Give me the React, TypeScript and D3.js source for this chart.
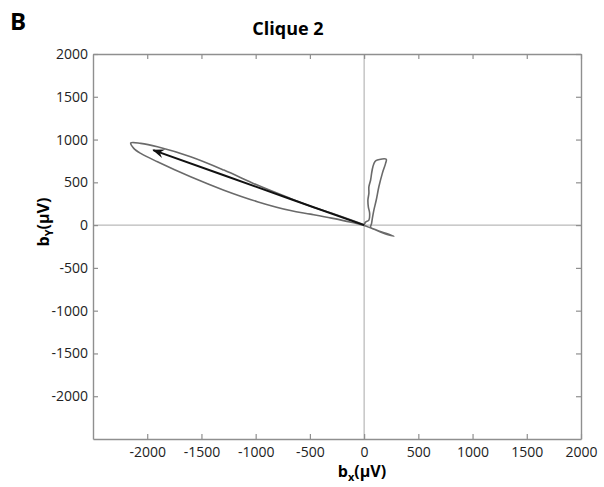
import { useRef, useEffect } from "react";
import * as d3 from "d3";

// gray trajectory: big loop out to the left, tail to lower right, small loop above origin
const loopX = [0, -250, -494, -679, -985, -1293, -1600, -1906, -2060, -2152,
  -2124, -2060, -1906, -1600, -1293, -985, -679, -494, -300, -120, -17, 130, 274,
  180, 100, 60, 69, 76, 90, 112, 136, 168, 198, 204,
  122, 99, 81, 69, 60, 44, 44, 35, 39, 51, 44, 14, 0];
const loopY = [5, 118, 221, 311, 468, 643, 799, 916, 955, 960,
  897, 838, 740, 564, 408, 274, 170, 128, 82, 34, 2, -65, -129,
  -95, -52, -27, 20, 78, 176, 293, 448, 605, 722, 769,
  761, 741, 683, 605, 527, 448, 371, 293, 214, 137, 59, 35, 5];

// black mean vector
const arrowX = [0, -680, -1300, -1945];
const arrowY = [0, 305, 585, 877];

const xTicks = [-2000, -1500, -1000, -500, 0, 500, 1000, 1500, 2000];
const yTicks = [-2000, -1500, -1000, -500, 0, 500, 1000, 1500, 2000];

export default function App() {
  const svgRef = useRef<SVGSVGElement>(null);

  useEffect(() => {
    const width = 604;
    const height = 487;
    const MARGIN = { top: 54, right: 23, bottom: 48, left: 93 };

    const svg = d3.select(svgRef.current);
    svg.selectAll("*").remove();
    svg.attr("width", width).attr("height", height);

    const x = d3.scaleLinear().domain([-2500, 2000]).range([MARGIN.left, width - MARGIN.right]);
    const y = d3.scaleLinear().domain([-2500, 2000]).range([height - MARGIN.bottom, MARGIN.top]);

    const font = "'Open Sans', sans-serif";
    const axisColor = "#8f8f8f";
    const fmt = (d: d3.NumberValue) => String(d);

    // zero lines
    svg.append("line")
      .attr("x1", x(0)).attr("x2", x(0))
      .attr("y1", y(-2500)).attr("y2", y(2000))
      .attr("stroke", "#a8a8a8").attr("stroke-width", 1);
    svg.append("line")
      .attr("x1", x(-2500)).attr("x2", x(2000))
      .attr("y1", y(0)).attr("y2", y(0))
      .attr("stroke", "#a8a8a8").attr("stroke-width", 1);

    // box axes with inward ticks
    const tickSize = 5;
    const bottom = svg.append("g").attr("transform", `translate(0,${y(-2500)})`)
      .call(d3.axisBottom(x).tickValues(xTicks).tickFormat(fmt).tickSizeInner(-tickSize).tickSizeOuter(0).tickPadding(8));
    const top = svg.append("g").attr("transform", `translate(0,${y(2000)})`)
      .call(d3.axisTop(x).tickValues(xTicks).tickSizeInner(-tickSize).tickSizeOuter(0).tickFormat(() => ""));
    const left = svg.append("g").attr("transform", `translate(${x(-2500)},0)`)
      .call(d3.axisLeft(y).tickValues(yTicks).tickFormat(fmt).tickSizeInner(-tickSize).tickSizeOuter(0).tickPadding(5));
    const right = svg.append("g").attr("transform", `translate(${x(2000)},0)`)
      .call(d3.axisRight(y).tickValues(yTicks).tickSizeInner(-tickSize).tickSizeOuter(0).tickFormat(() => ""));

    [bottom, top, left, right].forEach((g) => {
      g.select(".domain").attr("stroke", axisColor).attr("stroke-width", 1.4);
      g.selectAll(".tick line").attr("stroke", axisColor).attr("stroke-width", 1.2);
      g.selectAll(".tick text")
        .attr("fill", "#222")
        .style("font-family", font)
        .style("font-size", "14px");
    });

    // gray trajectory
    const loopPts: [number, number][] = loopX.map((d, i) => [d, loopY[i]]);
    const line = d3.line<[number, number]>()
      .x((d) => x(d[0]))
      .y((d) => y(d[1]))
      .curve(d3.curveCatmullRom.alpha(0.5));

    svg.append("path")
      .attr("d", line(loopPts))
      .attr("fill", "none")
      .attr("stroke", "#6a6a6a")
      .attr("stroke-width", 1.6);

    // arrow
    svg.append("defs").append("marker")
      .attr("id", "arrowHead")
      .attr("viewBox", "-12 -6 14 12")
      .attr("refX", 0).attr("refY", 0)
      .attr("markerWidth", 14).attr("markerHeight", 12)
      .attr("markerUnits", "userSpaceOnUse")
      .attr("orient", "auto")
      .append("path")
      .attr("d", "M1,0 L-11,-4.5 L-7,0 L-11,4.5 Z")
      .attr("fill", "#111");

    const arrowPts: [number, number][] = arrowX.map((d, i) => [d, arrowY[i]]);
    svg.append("path")
      .attr("d", d3.line<[number, number]>().x((d) => x(d[0])).y((d) => y(d[1]))(arrowPts))
      .attr("fill", "none")
      .attr("stroke", "#111")
      .attr("stroke-width", 2)
      .attr("marker-end", "url(#arrowHead)");

    // panel letter and title
    svg.append("text")
      .attr("x", 10).attr("y", 30)
      .style("font-family", font).style("font-size", "24px").style("font-weight", "bold")
      .text("B");

    svg.append("text")
      .attr("x", 288).attr("y", 35)
      .attr("text-anchor", "middle")
      .style("font-family", font).style("font-size", "18px").style("font-weight", "bold")
      .text("Clique 2");

    // axis labels
    const xl = svg.append("text")
      .attr("x", 362).attr("y", 477)
      .attr("text-anchor", "middle")
      .style("font-family", font).style("font-size", "16px").style("font-weight", "bold");
    xl.append("tspan").text("b");
    xl.append("tspan").attr("dy", 4).style("font-size", "11px").text("x");
    xl.append("tspan").attr("dy", -4).text("(μV)");

    const yl = svg.append("text")
      .attr("transform", "translate(49,222) rotate(-90)")
      .attr("text-anchor", "middle")
      .style("font-family", font).style("font-size", "16px").style("font-weight", "bold");
    yl.append("tspan").text("b");
    yl.append("tspan").attr("dy", 4).style("font-size", "11px").text("Y");
    yl.append("tspan").attr("dy", -4).text("(μV)");
  }, []);

  return (
    <div style={{ position: "absolute", top: 0, left: 0, background: "#fff" }}>
      <svg ref={svgRef}></svg>
    </div>
  );
}
